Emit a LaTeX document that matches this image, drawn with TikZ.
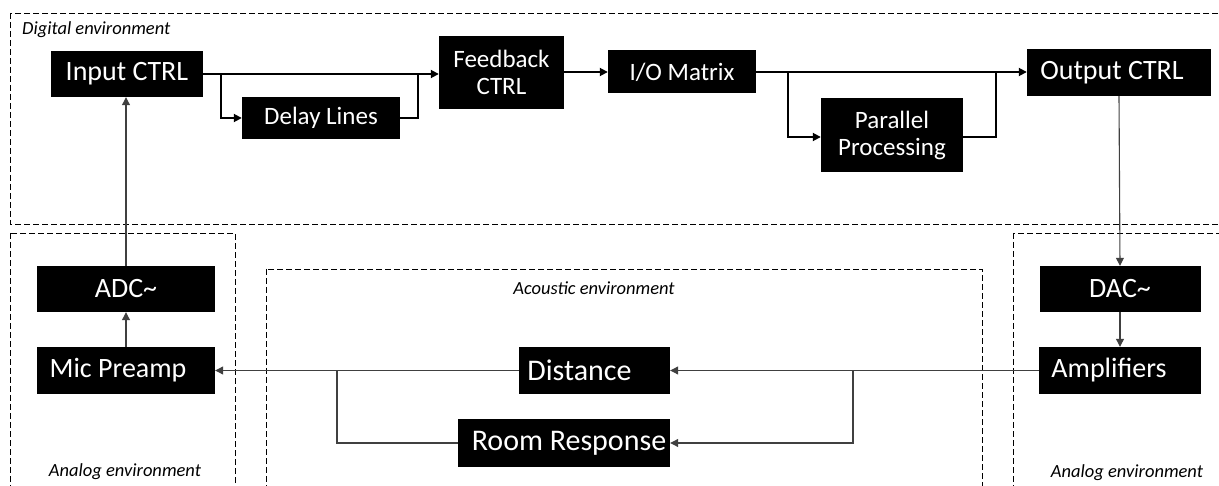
\documentclass[tikz,border=0pt]{standalone}
\usepackage{fontspec}
\setmainfont{Carlito}
\usetikzlibrary{arrows.meta,calc}

\tikzset{
  blk/.style={fill=black, text=white, inner sep=0pt, anchor=center, align=center},
  big/.style={blk, font=\fontsize{28}{30}\selectfont},
  huge/.style={blk, font=\fontsize{30}{32}\selectfont},
  small/.style={blk, font=\fontsize{25}{27}\selectfont},
  env/.style={draw=black, line width=0.9pt, dash pattern=on 6pt off 3pt},
  envlabel/.style={font=\itshape\fontsize{18.5}{20}\selectfont, inner sep=0pt},
  dflow/.style={draw=black, line width=1.8pt},
  aflow/.style={draw=black!75, line width=1.1pt},
  tip/.style={-{Triangle[length=8pt,width=8pt]}},
}

\begin{document}
\begin{tikzpicture}[x=1pt, y=-1pt]
\useasboundingbox (0,0) rectangle (1219,486);

% environment frames
\draw[env] (10,13) rectangle (1240,224);
\draw[env] (10,233) rectangle (235,520);
\draw[env] (266,269) rectangle (982,520);
\draw[env] (1013,233) rectangle (1240,520);

\node[envlabel, anchor=west] (lbldig) at (22,30) {Digital environment};
\node[envlabel] (lblanl) at (125,472) {Analog environment};
\node[envlabel] (lblaco) at (594,288) {Acoustic environment};
\node[envlabel] (lblanr) at (1127,473) {Analog environment};

% digital blocks
\node[big, minimum width=152pt, minimum height=46pt] (inctrl) at (127,74) {Input CTRL};
\node[small, minimum width=158pt, minimum height=42pt] (delay) at (321,118) {Delay Lines};
\node[small, minimum width=125pt, minimum height=73pt] (fb) at (501.5,72.5) {Feedback\\CTRL};
\node[small, minimum width=148pt, minimum height=43pt] (io) at (682,72) {I/O Matrix};
\node[small, minimum width=142pt, minimum height=74pt] (par) at (892,135) {Parallel\\Processing};
\node[big, minimum width=184pt, minimum height=47pt] (outctrl) at (1119,72.5) {Output CTRL\hspace{14pt}};

% analog blocks
\node[big, minimum width=178pt, minimum height=46pt] (adc) at (126,289) {ADC\~{}};
\node[big, minimum width=178pt, minimum height=47pt] (mic) at (126,370.5) {Mic Preamp\hspace{16pt}};
\node[big, minimum width=161pt, minimum height=46pt] (dac) at (1120,289) {DAC\~{}};
\node[big, minimum width=162pt, minimum height=47pt] (amp) at (1120,370.5) {Amplifiers\hspace{22pt}};

% acoustic blocks
\node[huge, minimum width=151pt, minimum height=47pt] (dist) at (594.5,370.5) {Distance\hspace{30pt}};
\node[huge, minimum width=212pt, minimum height=48pt] (room) at (564,443) {\hspace{10pt}Room Response};

% junction points
\coordinate (j1) at (221,74);
\coordinate (j2) at (418,74);
\coordinate (j3) at (788,72);
\coordinate (j4) at (996,72);
\coordinate (j5) at (853,370.5);
\coordinate (j6) at (337,370.5);

% digital signal path
\draw[dflow, tip] (inctrl.east |- j1) -- (fb.west |- j1);
\draw[dflow, tip] (j1) |- (delay.west);
\draw[dflow] (delay.east) -| (j2);
\draw[dflow, tip] (fb.east |- io.west) -- (io.west);
\draw[dflow, tip] (io.east) -- (io.east -| outctrl.west);
\draw[dflow, tip] (j3) |- ([yshift=-2pt]par.west);
\draw[dflow] ([yshift=-2pt]par.east) -| (j4);

% analog / acoustic path
\draw[aflow, tip] (outctrl.south) -- (dac.north);
\draw[aflow, tip] (dac.south) -- (amp.north);
\draw[aflow, tip] (amp.west) -- (dist.east);
\draw[aflow, tip] (j5) |- (room.east);
\draw[aflow, tip] (dist.west) -- (mic.east);
\draw[aflow] (room.west) -| (j6);
\draw[aflow, tip] (mic.north) -- (adc.south);
\draw[aflow, tip] (adc.north) -- (adc.north |- inctrl.south);
\end{tikzpicture}
\end{document}
